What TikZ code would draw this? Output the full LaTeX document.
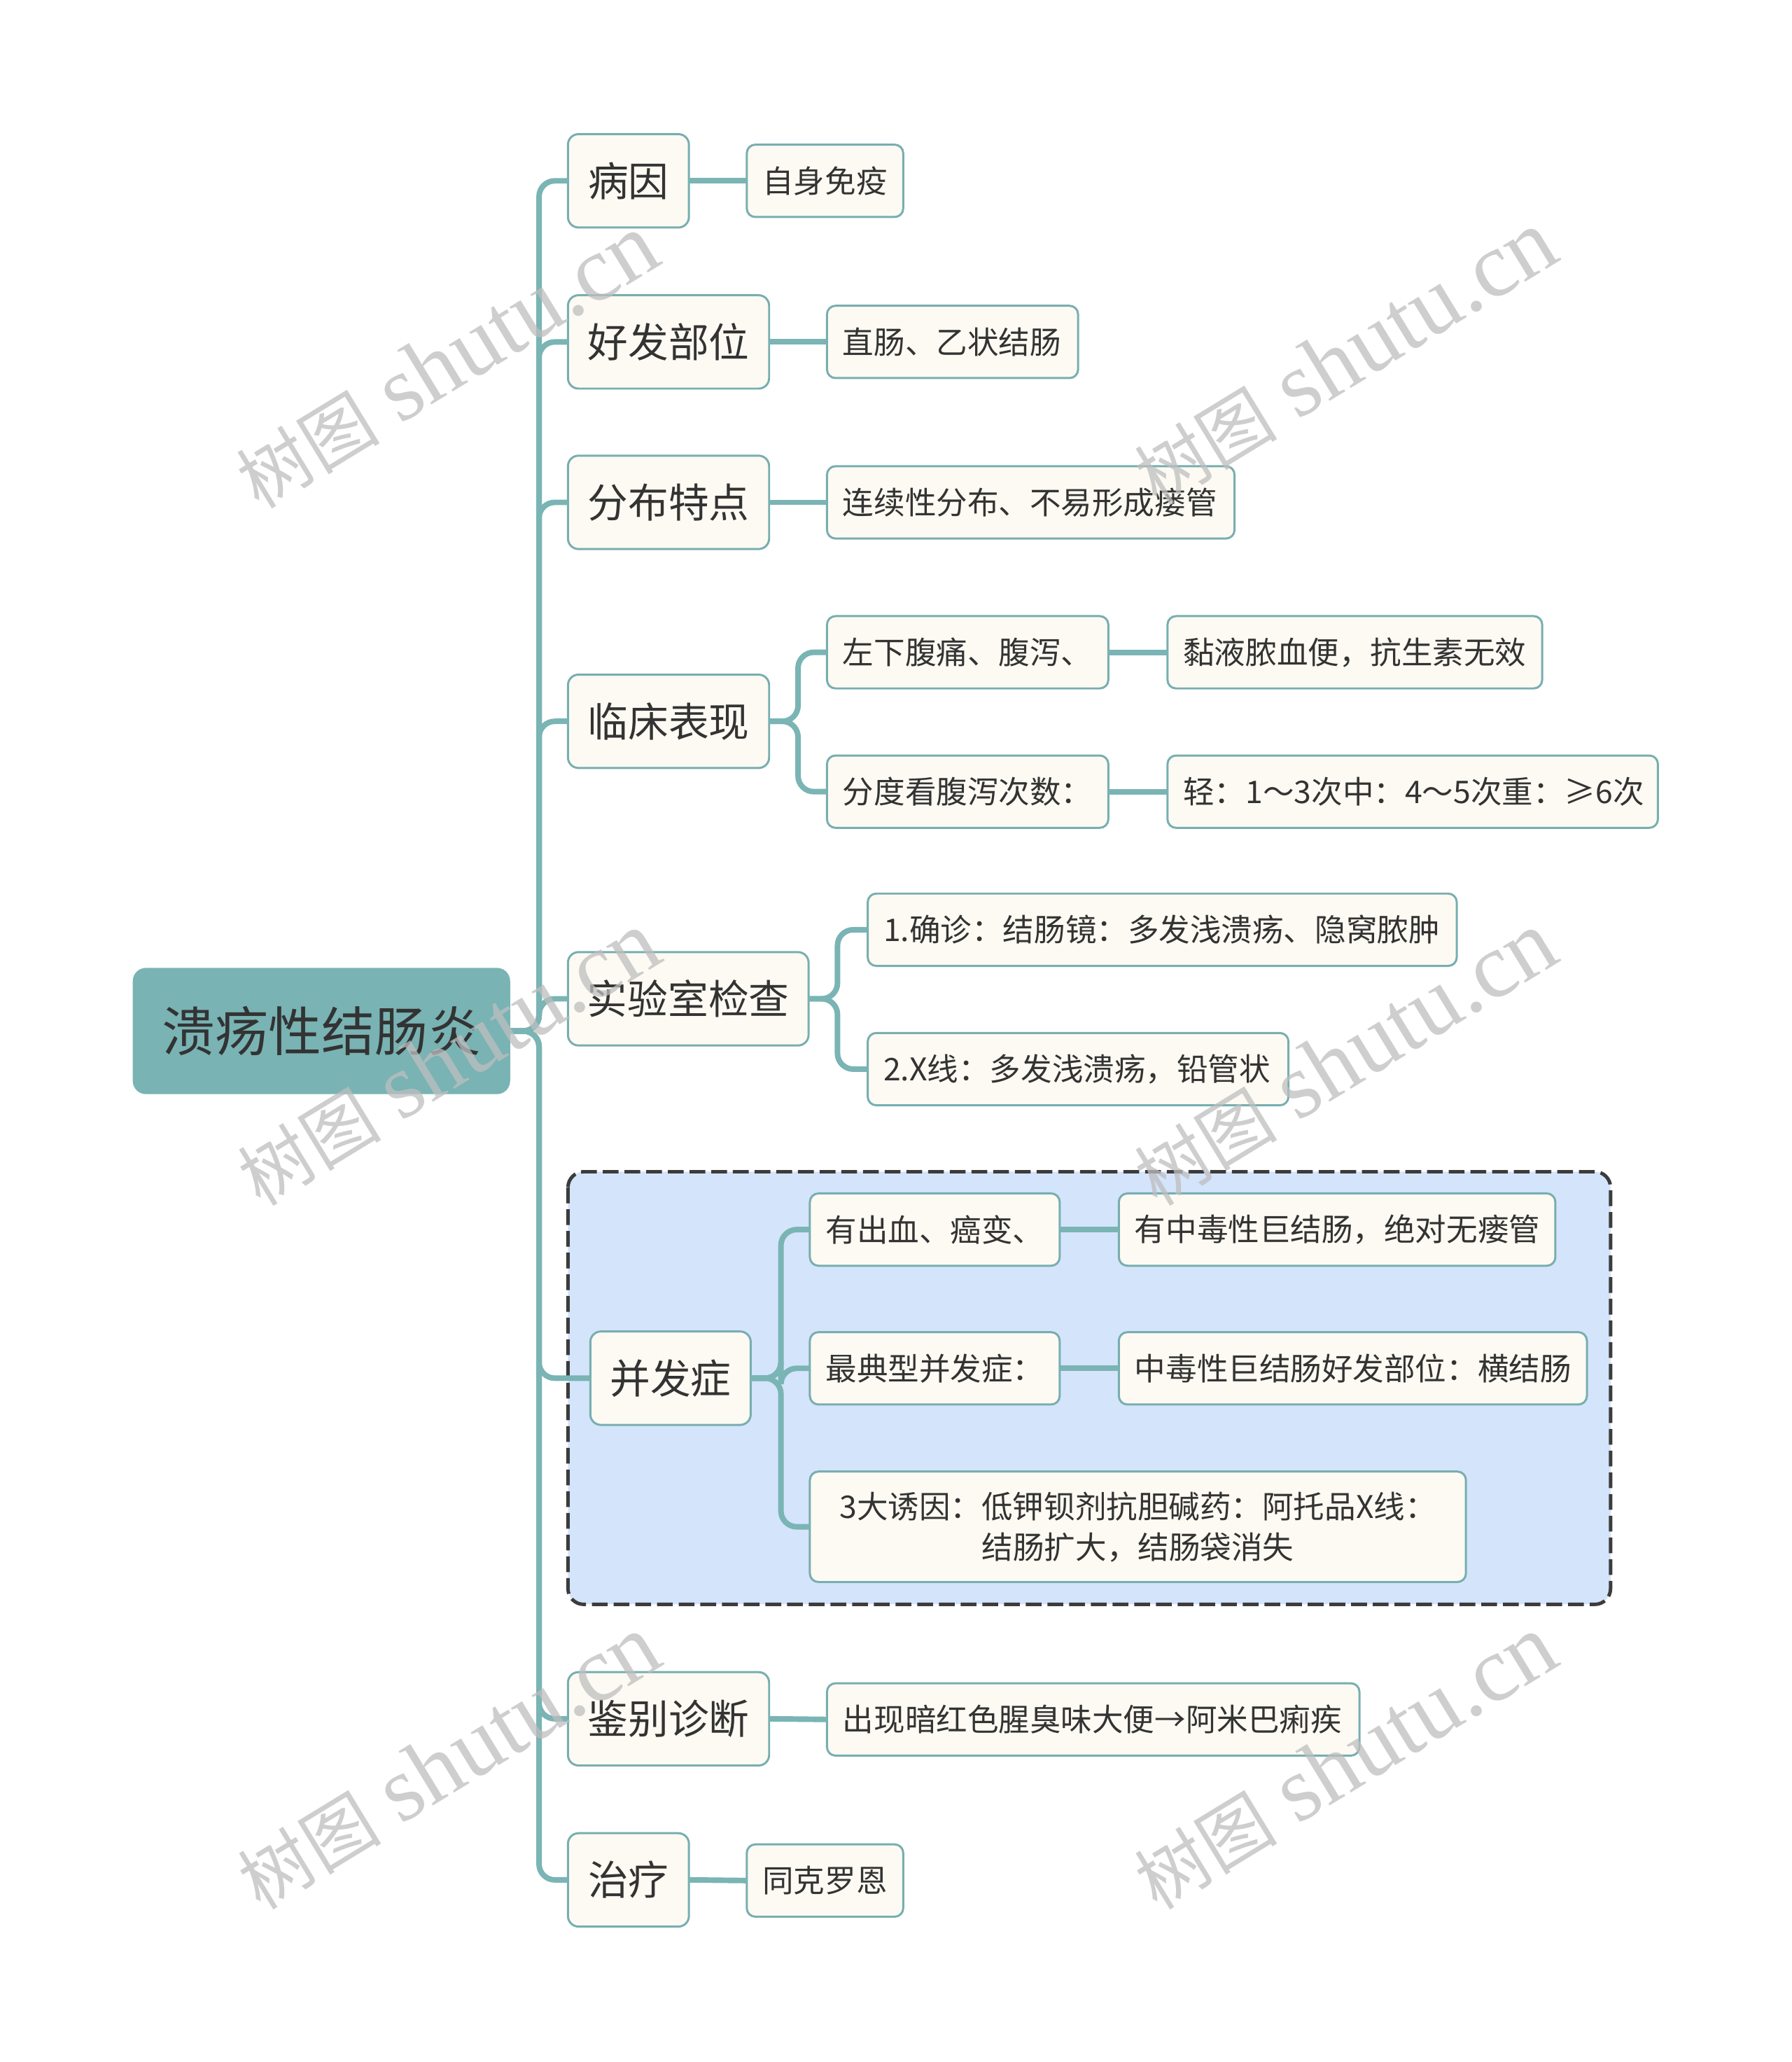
\documentclass[tikz,border=0pt]{standalone}
\usepackage{fontspec}
\setmainfont{Noto Sans CJK SC}
\newfontfamily\wmserif{Liberation Serif}
\newfontfamily\wmcjk{Noto Sans CJK SC}
\definecolor{tealc}{HTML}{7AB4B5}
\definecolor{bordc}{HTML}{78AEB0}
\definecolor{rootc}{HTML}{79B3B4}
\definecolor{creamc}{HTML}{FCFAF2}
\definecolor{txtc}{HTML}{333333}
\definecolor{boxblue}{HTML}{D4E4FB}
\definecolor{dashc}{HTML}{3C3C3C}
\definecolor{wmc}{HTML}{BEBEBE}
\begin{document}
\begin{tikzpicture}[x=0.2mm,y=-0.2mm,
  conn/.style={draw=tealc, line width=2.4pt, rounded corners=2.4mm},
  rootbox/.style={rectangle, rounded corners=2mm, fill=rootc, text=txtc,
    font=\fontsize{23}{28}\selectfont, minimum width=57.4mm, minimum height=19.2mm,
    inner sep=0pt, outer sep=0pt},
  lone/.style={rectangle, rounded corners=1.6mm, draw=bordc, line width=0.9pt,
    fill=creamc, text=txtc, font=\fontsize{17.5}{21}\selectfont,
    minimum height=14.2mm, inner sep=0pt, outer sep=0pt},
  leaf/.style={rectangle, rounded corners=1.3mm, draw=bordc, line width=0.9pt,
    fill=creamc, text=txtc, font=\fontsize{13.5}{17.6}\selectfont,
    minimum height=11mm, inner xsep=2.4mm, inner ysep=0pt, outer sep=0pt,
    align=left, anchor=west},
  grpbox/.style={draw=dashc, line width=1.5pt, dash pattern=on 2.4mm off 0.9mm,
    fill=boxblue, rounded corners=2.4mm},
  wm/.style={text=wmc, text opacity=0.75, rotate=31.4, inner sep=0pt}
]
\useasboundingbox (0,0) rectangle (1363,1568);

% group frame
\draw[grpbox] (432,891) rectangle (1225,1220);

% root
\node[rootbox] (root) at (244.5,784) {溃疡性结肠炎};

% level 1
\node[lone, minimum width=18.4mm] (a1) at (478,137.5) {病因};
\node[lone, minimum width=30.6mm] (a2) at (508.5,260) {好发部位};
\node[lone, minimum width=30.6mm] (a3) at (508.5,382) {分布特点};
\node[lone, minimum width=30.6mm] (a4) at (508.5,548.5) {临床表现};
\node[lone, minimum width=36.6mm] (a5) at (523.5,759.5) {实验室检查};
\node[lone, minimum width=24.4mm] (a6) at (510,1048) {并发症};
\node[lone, minimum width=30.6mm] (a7) at (508.5,1307) {鉴别诊断};
\node[lone, minimum width=18.4mm] (a8) at (478,1429.5) {治疗};

% leaves
\node[leaf, text width=19.0mm] (b1) at (568,137.5) {自身免疫};
\node[leaf, text width=33.4mm] (b2) at (629,260) {直肠、乙状结肠};
\node[leaf, text width=57.2mm] (b3) at (629,382) {连续性分布、不易形成瘘管};
\node[leaf, text width=38.0mm] (b4a) at (629,496) {左下腹痛、腹泻、};
\node[leaf, text width=52.2mm] (b4b) at (888,496) {黏液脓血便，抗生素无效};
\node[leaf, text width=38.0mm] (b4c) at (629,602) {分度看腹泻次数：};
\node[leaf, text width=69.8mm] (b4d) at (888,602) {轻：1～3次中：4～5次重：≥6次};
\node[leaf, text width=84.8mm] (b5a) at (660,707) {1.确诊：结肠镜：多发浅溃疡、隐窝脓肿};
\node[leaf, text width=59.2mm] (b5b) at (660,813) {2.X线：多发浅溃疡，铅管状};
\node[leaf, text width=33.2mm] (b6a) at (616,935) {有出血、癌变、};
\node[leaf, text width=61.6mm] (b6b) at (851,935) {有中毒性巨结肠，绝对无瘘管};
\node[leaf, text width=33.2mm] (b6c) at (616,1040.5) {最典型并发症：};
\node[leaf, text width=66.4mm] (b6d) at (851,1040.5) {中毒性巨结肠好发部位：横结肠};
\node[leaf, text width=95.0mm, align=center, minimum height=16.8mm] (b6e) at (616,1161)
  {3大诱因：低钾钡剂抗胆碱药：阿托品X线：\\结肠扩大，结肠袋消失};
\node[leaf, text width=76.2mm] (b7) at (629,1307.5) {出现暗红色腥臭味大便→阿米巴痢疾};
\node[leaf, text width=19.0mm] (b8) at (568,1430) {同克罗恩};

% junction points
\coordinate (sp) at (410,784);
\coordinate (j4) at (607,548.5);
\coordinate (j5) at (637,759.5);
\coordinate (j6) at (594,1048);

% connectors
\foreach \c in {a1,a2,a3,a4,a5,a6,a7,a8}{
  \draw[conn] (root.east) -- (sp) |- (\c.west);
}
\draw[conn] (a1.east) -- (b1.west);
\draw[conn] (a2.east) -- (b2.west);
\draw[conn] (a3.east) -- (b3.west);
\draw[conn] (a4.east) -- (j4) |- (b4a.west);
\draw[conn] (a4.east) -- (j4) |- (b4c.west);
\draw[conn] (b4a.east) -- (b4b.west);
\draw[conn] (b4c.east) -- (b4d.west);
\draw[conn] (a5.east) -- (j5) |- (b5a.west);
\draw[conn] (a5.east) -- (j5) |- (b5b.west);
\draw[conn] (a6.east) -- (j6) |- (b6a.west);
\draw[conn] (a6.east) -- (j6) |- (b6c.west);
\draw[conn] (a6.east) -- (j6) |- (b6e.west);
\draw[conn] (b6a.east) -- (b6b.west);
\draw[conn] (b6c.east) -- (b6d.west);
\draw[conn] (a7.east) -- (b7.west);
\draw[conn] (a8.east) -- (b8.west);

% watermarks
\foreach \p [count=\i] in {(340,275),(1023,272),(341,805),(1023,805),(341,1340),(1023,1340)}{
  \node[wm] (wm\i) at \p {{\wmcjk\fontsize{31}{31}\selectfont 树图}\hspace{3.2mm}{\wmserif\fontsize{40}{40}\selectfont shutu.cn}};
}
\end{tikzpicture}
\end{document}
